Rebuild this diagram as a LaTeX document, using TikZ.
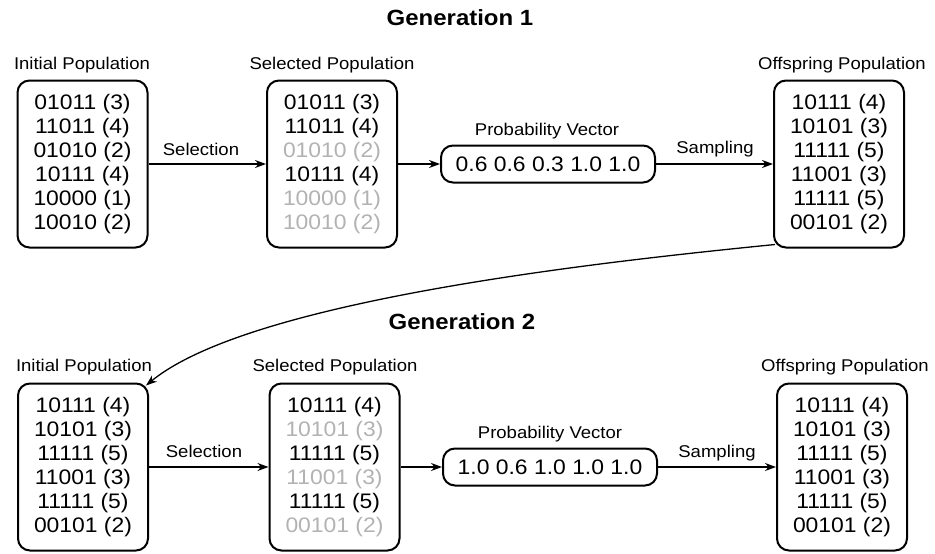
\documentclass[tikz,border=0pt]{standalone}
\usepackage{fontspec}
\setmainfont{Liberation Sans}[FakeStretch=1.09]
\usetikzlibrary{arrows.meta}
\definecolor{fade}{RGB}{178,178,178}
\tikzset{
  pop/.style={draw, line width=2pt, rounded corners=12pt, minimum width=130pt, minimum height=167pt, inner sep=0pt, align=center, font=\fontsize{21}{24}\selectfont},
  vec/.style={draw, line width=2pt, rounded corners=12pt, minimum width=214pt, minimum height=37pt, inner sep=0pt, font=\fontsize{21}{24}\selectfont},
  lbl/.style={font=\fontsize{17}{20}\selectfont, anchor=base, inner sep=0pt},
  ttl/.style={font=\bfseries\fontsize{22}{26}\selectfont, anchor=base, inner sep=0pt},
  arr/.style={-{Stealth[length=11pt,width=8pt]}, line width=1.3pt},
}
\newcommand{\fd}[1]{\textcolor{fade}{#1}}
\begin{document}
\begin{tikzpicture}[x=1pt,y=-1pt]
\useasboundingbox (0,0) rectangle (935,554);
% Generation 1
\node[ttl] (t1) at (460,25) {Generation 1};
\node[pop] (i1) at (82.5,164) {01011 (3)\\11011 (4)\\01010 (2)\\10111 (4)\\10000 (1)\\10010 (2)};
\node[pop] (s1) at (332,164) {01011 (3)\\11011 (4)\\\fd{01010 (2)}\\10111 (4)\\\fd{10000 (1)}\\\fd{10010 (2)}};
\node[vec] (v1) at (548,164) {0.6 0.6 0.3 1.0 1.0};
\node[pop] (o1) at (839,164) {10111 (4)\\10101 (3)\\11111 (5)\\11001 (3)\\11111 (5)\\00101 (2)};
\node[lbl] (li1) at (82,69) {Initial Population};
\node[lbl] (ls1) at (332,69) {Selected Population};
\node[lbl] (lv1) at (547,135) {Probability Vector};
\node[lbl] (lo1) at (842,69) {Offspring Population};
\node[lbl] (sel1) at (201,155) {Selection};
\node[lbl] (sam1) at (715,153) {Sampling};
\draw[arr] (i1.east) -- (s1.west);
\draw[arr] (s1.east) -- (v1.west);
\draw[arr] (v1.east) -- (o1.west);
% Generation 2
\node[ttl] (t2) at (462,329) {Generation 2};
\node[pop] (i2) at (83,467) {10111 (4)\\10101 (3)\\11111 (5)\\11001 (3)\\11111 (5)\\00101 (2)};
\node[pop] (s2) at (334.5,467) {10111 (4)\\\fd{10101 (3)}\\11111 (5)\\\fd{11001 (3)}\\11111 (5)\\\fd{00101 (2)}};
\node[vec] (v2) at (550,467) {1.0 0.6 1.0 1.0 1.0};
\node[pop] (o2) at (842,467) {10111 (4)\\10101 (3)\\11111 (5)\\11001 (3)\\11111 (5)\\00101 (2)};
\node[lbl] (li2) at (84,371) {Initial Population};
\node[lbl] (ls2) at (335,371) {Selected Population};
\node[lbl] (lv2) at (550,438) {Probability Vector};
\node[lbl] (lo2) at (845,371) {Offspring Population};
\node[lbl] (sel2) at (204,457) {Selection};
\node[lbl] (sam2) at (717,457) {Sampling};
\draw[arr] (i2.east) -- (s2.west);
\draw[arr] (s2.east) -- (v2.west);
\draw[arr] (v2.east) -- (o2.west);
% link between generations
\draw[arr] ([xshift=2pt,yshift=4pt]o1.south west) .. controls (600,262) and (250,300) .. ([xshift=-3pt,yshift=-3pt]i2.north east);
\end{tikzpicture}
\end{document}
